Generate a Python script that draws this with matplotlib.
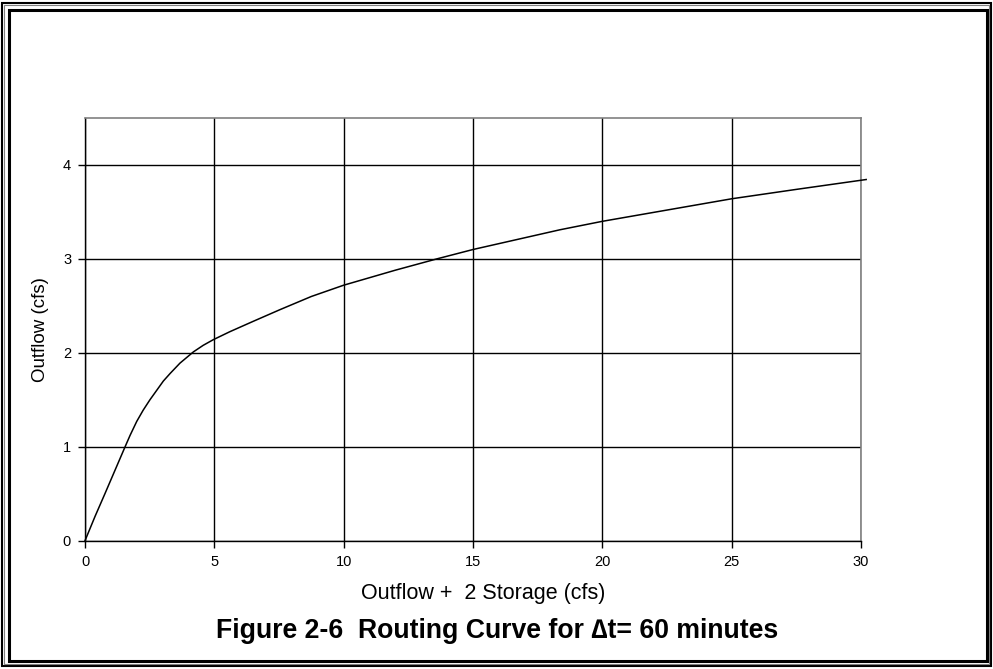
import matplotlib
matplotlib.use("Agg")
import matplotlib.pyplot as plt
from matplotlib.patches import Rectangle

# Data
x_vals = [0, 0.39, 0.77, 1.16, 1.55, 1.74, 2.0, 2.25, 2.51, 2.77, 3.03, 3.29,
          3.67, 3.93, 4.19, 4.57, 4.96, 5.6, 6.5, 7.54, 8.75, 10.0, 12.0,
          13.6, 15.0, 18.36, 20.0, 22.5, 25.0, 27.5, 30.2]
y_vals = [0, 0.26, 0.50, 0.75, 1.00, 1.12, 1.27, 1.39, 1.50, 1.60, 1.70, 1.78,
          1.89, 1.95, 2.01, 2.08, 2.14, 2.225, 2.335, 2.46, 2.60, 2.72, 2.88,
          3.00, 3.10, 3.31, 3.40, 3.52, 3.64, 3.74, 3.845]
x_ticks = [0, 5, 10, 15, 20, 25, 30]
y_ticks = [0, 1, 2, 3, 4]

plt.rcParams['font.family'] = ['Liberation Sans', 'DejaVu Sans']

W, H = 993, 669
fig = plt.figure(figsize=(W / 100, H / 100), dpi=100)

def fx(px):
    return px / W

def fy(py):
    return 1 - py / H

# Double border frame
fig.add_artist(Rectangle((fx(2), fy(666)), fx(989), 663 / H, fill=False,
                         transform=fig.transFigure, lw=1.5, ec='black'))
fig.add_artist(Rectangle((fx(4), fy(664)), fx(985), 659 / H, fill=False,
                         transform=fig.transFigure, lw=0.8, ec='#808080'))
fig.add_artist(Rectangle((fx(8.5), fy(661)), fx(978.5), 651 / H, fill=False,
                         transform=fig.transFigure, lw=2.2, ec='black'))

ax = fig.add_axes([fx(85), fy(540.7), fx(861 - 85), (540.7 - 118) / H])
ax.plot(x_vals, y_vals, color='black', lw=1.1, clip_on=False, zorder=3,
        solid_joinstyle='round')
ax.set_xlim(0, 30)
ax.set_ylim(0, 4.5)
ax.set_xticks(x_ticks)
ax.set_yticks(y_ticks)
ax.grid(True, color='black', lw=1.0)
ax.set_axisbelow(True)
for s in ['top', 'right']:
    ax.spines[s].set_color('#808080')
    ax.spines[s].set_linewidth(1.2)
for s in ['left', 'bottom']:
    ax.spines[s].set_color('black')
    ax.spines[s].set_linewidth(1.0)
ax.tick_params(direction='out', length=5, width=1, labelsize=10.5, pad=5)

ax.set_ylabel('Outflow (cfs)', fontsize=13.5, labelpad=10)
fig.text(fx(483), fy(593), 'Outflow +  2 Storage (cfs)', ha='center', va='center',
         fontsize=15.5)
fig.text(fx(497), fy(631), 'Figure 2-6  Routing Curve for \u2206t= 60 minutes',
         ha='center', va='center', fontsize=19.2, fontweight='bold')

fig.savefig('out.png', dpi=100)
